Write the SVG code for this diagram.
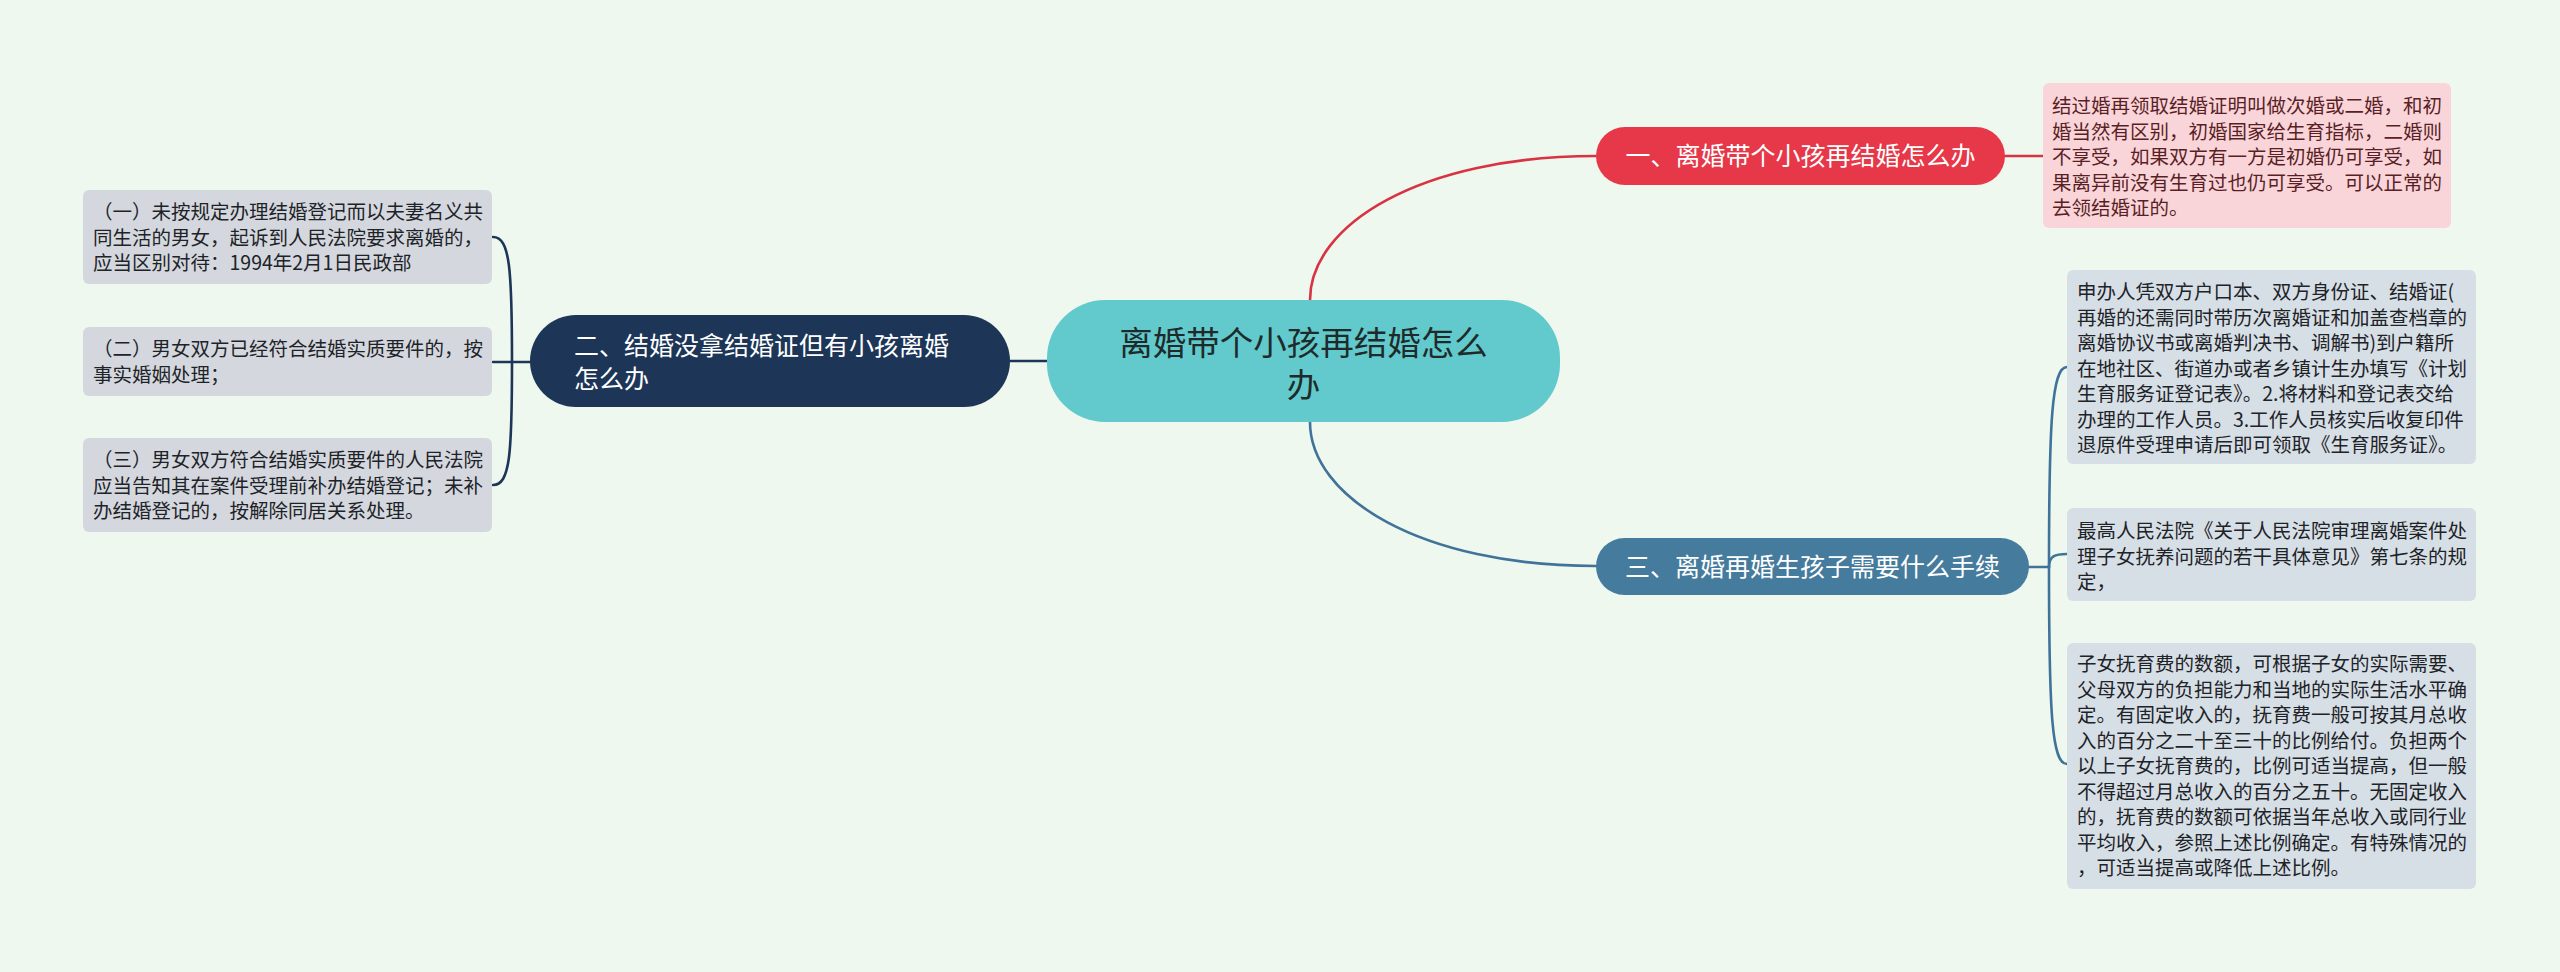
<svg xmlns="http://www.w3.org/2000/svg" width="2560" height="972" viewBox="0 0 2560 972">
<style>
text{font-family:"Noto Sans CJK SC","Noto Sans",sans-serif;}
.conn{fill:none;stroke-width:2.6;stroke-linecap:round;}
.red{stroke:#d83343;}
.blue{stroke:#40739a;}
.navy{stroke:#1d3557;}
.small{font-size:19.5px;}
.br{font-size:25px;fill:#ffffff;}
</style>
<rect x="0" y="0" width="2560" height="972" fill="#eff8ee"/>
<g id="connectors">
<path class="conn red" d="M1310 300 C1310 225 1420 156 1596 156"/>
<path class="conn red" d="M2005 156 H2043"/>
<path class="conn blue" d="M1310 422 C1310 497 1420 566 1596 566"/>
<path class="conn blue" d="M2029 567 H2049"/>
<path class="conn blue" d="M2049 567 C2049 420 2052 367 2067 367"/>
<path class="conn blue" d="M2049 567 C2049 556 2055 554 2067 554"/>
<path class="conn blue" d="M2049 567 C2049 715 2052 764 2067 764"/>
<path class="conn navy" d="M1047 361 H1010"/>
<path class="conn navy" d="M530 362 H512"/>
<path class="conn navy" d="M512 362 C512 270 510 237 493 237"/>
<path class="conn navy" d="M512 362 H493"/>
<path class="conn navy" d="M512 362 C512 454 510 485 493 485"/>
</g>
<g id="center">
<rect x="1047" y="300" width="513" height="122" rx="58" fill="#62cacc"/>
<text font-size="33.5" fill="#1f2b2b" text-anchor="middle"><tspan x="1303.5" y="355">离婚带个小孩再结婚怎么</tspan><tspan x="1303.5" y="397">办</tspan></text>
</g>
<g id="branch1">
<rect x="1596" y="127" width="409" height="58" rx="29" fill="#e63848"/>
<text class="br" x="1800.5" y="165" text-anchor="middle">一、离婚带个小孩再结婚怎么办</text>
</g>
<g id="leaf1">
<rect x="2043" y="83" width="408" height="145" rx="6" fill="#f9d5da"/>
<text class="small" fill="#5a1f25"><tspan x="2052" y="113">结过婚再领取结婚证明叫做次婚或二婚，和初</tspan><tspan x="2052" dy="25.5">婚当然有区别，初婚国家给生育指标，二婚则</tspan><tspan x="2052" dy="25.5">不享受，如果双方有一方是初婚仍可享受，如</tspan><tspan x="2052" dy="25.5">果离异前没有生育过也仍可享受。可以正常的</tspan><tspan x="2052" dy="25.5">去领结婚证的。</tspan></text>
</g>
<g id="branch3">
<rect x="1596" y="538" width="433" height="57" rx="28.5" fill="#457b9d"/>
<text class="br" x="1812.5" y="575.5" text-anchor="middle">三、离婚再婚生孩子需要什么手续</text>
</g>
<g id="leaf3a">
<rect x="2067" y="270" width="409" height="194" rx="6" fill="#d7dfe6"/>
<text class="small" fill="#1e2328"><tspan x="2077" y="299">申办人凭双方户口本、双方身份证、结婚证(</tspan><tspan x="2077" dy="25.5">再婚的还需同时带历次离婚证和加盖查档章的</tspan><tspan x="2077" dy="25.5">离婚协议书或离婚判决书、调解书)到户籍所</tspan><tspan x="2077" dy="25.5">在地社区、街道办或者乡镇计生办填写《计划</tspan><tspan x="2077" dy="25.5">生育服务证登记表》。2.将材料和登记表交给</tspan><tspan x="2077" dy="25.5">办理的工作人员。3.工作人员核实后收复印件</tspan><tspan x="2077" dy="25.5">退原件受理申请后即可领取《生育服务证》。</tspan></text>
</g>
<g id="leaf3b">
<rect x="2067" y="508" width="409" height="93" rx="6" fill="#d7dfe6"/>
<text class="small" fill="#1e2328"><tspan x="2077" y="538">最高人民法院《关于人民法院审理离婚案件处</tspan><tspan x="2077" dy="25.5">理子女抚养问题的若干具体意见》第七条的规</tspan><tspan x="2077" dy="25.5">定，</tspan></text>
</g>
<g id="leaf3c">
<rect x="2067" y="643" width="409" height="246" rx="6" fill="#d7dfe6"/>
<text class="small" fill="#1e2328"><tspan x="2077" y="671">子女抚育费的数额，可根据子女的实际需要、</tspan><tspan x="2077" dy="25.5">父母双方的负担能力和当地的实际生活水平确</tspan><tspan x="2077" dy="25.5">定。有固定收入的，抚育费一般可按其月总收</tspan><tspan x="2077" dy="25.5">入的百分之二十至三十的比例给付。负担两个</tspan><tspan x="2077" dy="25.5">以上子女抚育费的，比例可适当提高，但一般</tspan><tspan x="2077" dy="25.5">不得超过月总收入的百分之五十。无固定收入</tspan><tspan x="2077" dy="25.5">的，抚育费的数额可依据当年总收入或同行业</tspan><tspan x="2077" dy="25.5">平均收入，参照上述比例确定。有特殊情况的</tspan><tspan x="2077" dy="25.5">，可适当提高或降低上述比例。</tspan></text>
</g>
<g id="branch2">
<rect x="530" y="315" width="480" height="92" rx="46" fill="#1d3557"/>
<text class="br"><tspan x="574" y="355">二、结婚没拿结婚证但有小孩离婚</tspan><tspan x="574" y="388">怎么办</tspan></text>
</g>
<g id="leaf2a">
<rect x="83" y="190" width="409" height="94" rx="6" fill="#d4d8de"/>
<text class="small" fill="#1e2328"><tspan x="93" y="219">（一）未按规定办理结婚登记而以夫妻名义共</tspan><tspan x="93" dy="25.5">同生活的男女，起诉到人民法院要求离婚的，</tspan><tspan x="93" dy="25.5">应当区别对待：1994年2月1日民政部</tspan></text>
</g>
<g id="leaf2b">
<rect x="83" y="327" width="409" height="69" rx="6" fill="#d4d8de"/>
<text class="small" fill="#1e2328"><tspan x="93" y="356">（二）男女双方已经符合结婚实质要件的，按</tspan><tspan x="93" dy="25.5">事实婚姻处理；</tspan></text>
</g>
<g id="leaf2c">
<rect x="83" y="438" width="409" height="94" rx="6" fill="#d4d8de"/>
<text class="small" fill="#1e2328"><tspan x="93" y="467">（三）男女双方符合结婚实质要件的人民法院</tspan><tspan x="93" dy="25.5">应当告知其在案件受理前补办结婚登记；未补</tspan><tspan x="93" dy="25.5">办结婚登记的，按解除同居关系处理。</tspan></text>
</g>
</svg>
